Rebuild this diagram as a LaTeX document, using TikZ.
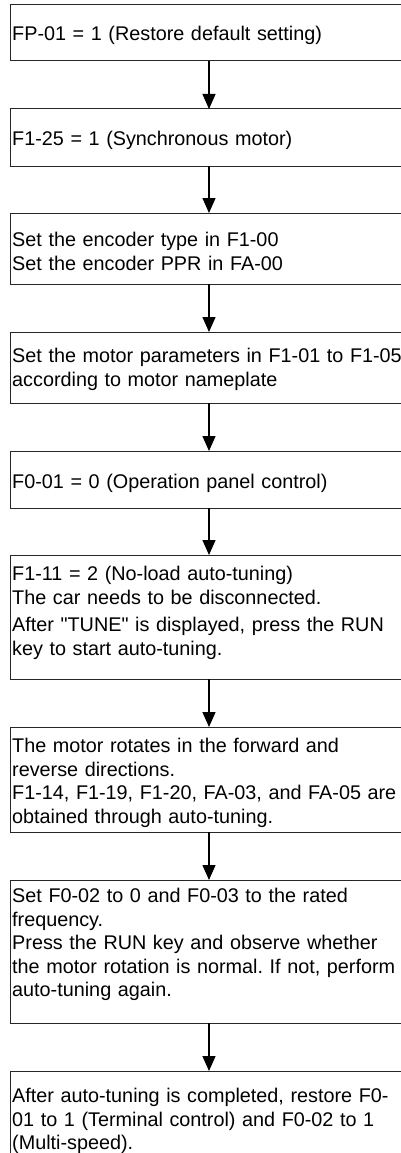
\documentclass[tikz,border=0pt]{standalone}
\usepackage{fontspec}
\setmainfont{Liberation Sans}[Ligatures=TeXOff]
\usetikzlibrary{arrows.meta}
\frenchspacing
\begin{document}
\begin{tikzpicture}[x=1pt,y=-1pt,
  frame/.style={draw=black!85, line width=1pt, rectangle, anchor=north west,
    minimum width=398pt, inner sep=0pt, outer sep=0pt},
  txt/.style={anchor=north west, inner sep=0pt, align=left, text width=430pt,
    font=\fontsize{19.8}{23.5}\selectfont},
  arr/.style={-{Triangle[width=13pt,length=15pt]}, line width=1.3pt, black}]
\useasboundingbox (0,0) rectangle (401,1153);
\clip (0,0) rectangle (401,1153);
% boxes
\node[frame, minimum height=56pt]  (b1) at (10,5) {};
\node[frame, minimum height=57pt]  (b2) at (10,109) {};
\node[frame, minimum height=71pt]  (b3) at (10,213) {};
\node[frame, minimum height=71pt]  (b4) at (10,332) {};
\node[frame, minimum height=57pt]  (b5) at (10,451) {};
\node[frame, minimum height=124pt] (b6) at (10,555) {};
\node[frame, minimum height=105pt] (b7) at (10,727) {};
\node[frame, minimum height=143pt] (b8) at (10,880) {};
\node[frame, minimum height=110pt] (b9) at (10,1071) {};
% texts
\node[txt] (t1) at (12,26) {FP-01 = 1 (Restore default setting)};
\node[txt] (t2) at (12,131) {F1-25 = 1 (Synchronous motor)};
\node[txt] (t3) at (12,232) {Set the encoder type in F1-00\\Set the encoder PPR in FA-00};
\node[txt] (t4) at (12,348) {Set the motor parameters in F1-01 to F1-05\\according to motor nameplate};
\node[txt] (t5) at (12,474) {F0-01 = 0 (Operation panel control)};
\node[txt] (t6) at (12,566) {F1-11 = 2 (No-load auto-tuning)\\The car needs to be disconnected.\\[4pt]After "TUNE" is displayed, press the RUN\\key to start auto-tuning.};
\node[txt] (t7) at (12,738) {The motor rotates in the forward and\\reverse directions.\\F1-14, F1-19, F1-20, FA-03, and FA-05 are\\obtained through auto-tuning.};
\node[txt] (t8) at (12,888) {Set F0-02 to 0 and F0-03 to the rated\\frequency.\\Press the RUN key and observe whether\\the motor rotation is normal. If not, perform\\auto-tuning again.};
\node[txt] (t9) at (12,1088) {After auto-tuning is completed, restore F0-\\01 to 1 (Terminal control) and F0-02 to 1\\(Multi-speed).};
% arrows
\draw[arr] (b1) -- (b2);
\draw[arr] (b2) -- (b3);
\draw[arr] (b3) -- (b4);
\draw[arr] (b4) -- (b5);
\draw[arr] (b5) -- (b6);
\draw[arr] (b6) -- (b7);
\draw[arr] (b7) -- (b8);
\draw[arr] (b8) -- (b9);
\end{tikzpicture}
\end{document}
